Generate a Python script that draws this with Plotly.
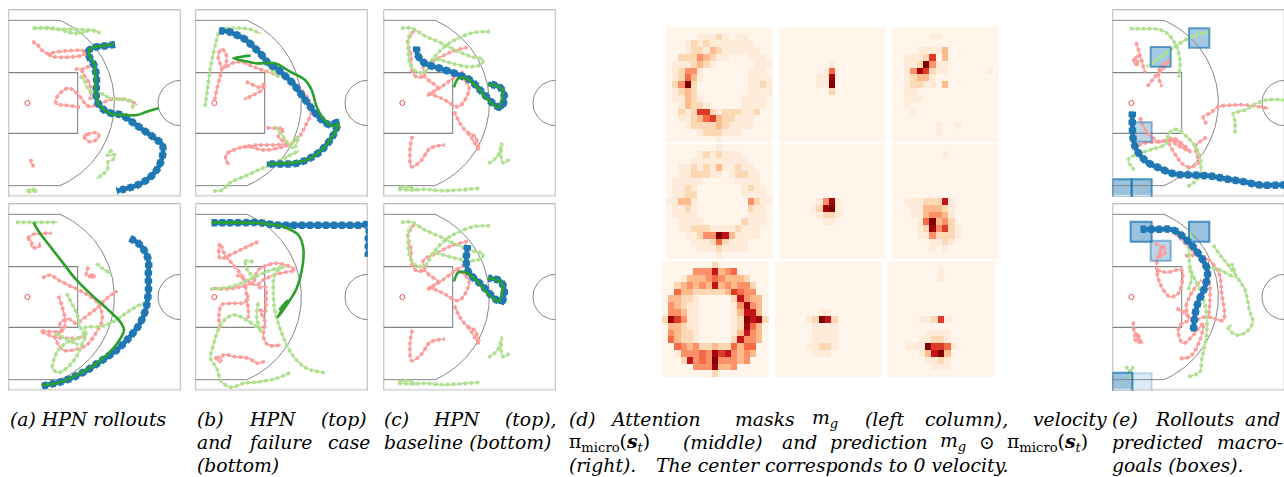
import numpy as np
import plotly.graph_objects as go

W_FIG, H_FIG = 1284, 477
PANEL_W, PANEL_H = 517, 562

A1_GREEN_L = [
    [(98,85),(130,85),(160,86),(190,88),(220,88),(250,89),(280,92),(302,99)],
    [(100,84),(150,84),(185,90),(215,99),(240,100),(275,90),(295,96)],
    [(240,228),(252,240),(262,262),(270,275),(300,278),(320,290),(345,298),(375,298),(395,305),(398,328)],
    [(336,450),(322,465),(345,465),(340,478),(325,485),(322,510),(305,525),(290,537)],
    [(80,574),(95,568),(112,572),(95,575),(82,575)],
]
A1_RED_L = [
    [(97,124),(112,134),(125,150),(140,160),(175,155),(210,152),(240,151),(258,155),(250,165),(220,170),(190,172),(160,170),(142,160)],
    [(225,206),(245,208),(270,197)],
    [(245,208),(252,225),(268,250),(272,275),(270,300)],
    [(240,322),(215,318),(190,315),(170,312),(167,300),(185,275),(205,264),(220,270),(240,290),(255,310),(270,320),(300,310),(340,297),(370,298),(395,305),(412,315)],
    [(250,408),(262,403),(285,398),(297,405),(290,418),(270,425),(255,415),(250,408)],
    [(92,477),(95,490),(100,497),(95,497)],
]
A1_BLUE = [(345,133),(320,137),(295,140),(275,145),(265,155),(270,175),(282,195),(288,220),(290,250),(288,280),(292,305),(310,328),(335,340),(365,345),(395,365),(430,390),(465,415),(487,435),(487,470),(470,510),(440,540),(405,558),(370,568),(350,573)]
A1_GREEN = [(342,131),(310,137),(280,142),(265,152),(270,170),(282,190),(286,220),(287,260),(288,290),(300,318),(330,340),(370,345),(412,345),(440,335),(476,325)]

B1_GREEN_L = [
    [(615,320),(622,270),(630,210),(640,160),(650,120),(660,90),(690,85),(725,85),(750,88),(782,101)],
    [(780,170),(800,190),(825,215),(850,215),(838,228),(820,222),(810,205)],
    [(640,573),(665,570),(690,548),(735,528),(780,508),(820,492),(860,470),(897,453)],
    [(825,380),(850,410),(880,445),(895,410),(880,425),(870,440)],
]
B1_RED_L = [
    [(644,300),(650,270),(660,230),(665,205),(655,175),(662,148),(675,155),(680,180),(672,205),(695,190),(720,185),(760,200),(800,215),(850,230),(890,255),(920,290),(935,330),(915,380),(890,420),(850,440),(790,450),(740,440),(680,462),(678,480),(688,495)],
    [(800,383),(825,385),(850,388),(835,410),(858,430),(820,435),(775,435),(730,440)],
    [(738,245),(760,255),(780,262),(795,250),(785,270),(760,285),(733,298)],
]
B1_BLUE = [(658,92),(685,95),(710,105),(735,118),(760,140),(785,165),(805,190),(830,205),(860,232),(880,252),(905,285),(935,325),(960,355),(990,375),(1012,368),(1000,405),(970,445),(935,472),(890,490),(845,492),(800,492)]
B1_GREEN = [(752,167),(725,170),(700,175),(735,183),(770,190),(825,190),(870,215),(915,240),(935,270),(950,320),(970,355),(1000,378),(1015,372),(1000,405),(970,445),(930,475),(890,487),(845,490),(805,492)]

A2_GREEN_L = [
    [(48,82),(80,82),(110,82),(140,82),(173,82)],
    [(290,205),(300,215),(315,225),(335,238)],
    [(200,295),(215,325),(232,360),(240,395),(250,415),(235,430),(205,440),(175,465),(160,500),(158,520),(175,533),(205,515),(232,480),(245,450),(258,420),(255,398),(300,395),(340,380),(400,340),(435,323)],
    [(165,415),(195,430),(235,450)],
]
A2_RED_L = [
    [(82,130),(100,118),(130,115),(155,115)],
    [(82,130),(95,140),(95,155),(115,157),(120,140)],
    [(265,215),(260,240),(285,240),(275,248),(265,245)],
    [(127,250),(150,240),(180,258),(215,275),(255,295),(290,320),(305,350),(305,380),(290,410),(260,450),(220,465),(190,465),(170,440),(165,420),(185,410),(180,385),(205,372),(230,385),(250,370),(290,340),(320,310),(352,288)],
    [(175,303),(185,330),(195,375),(190,405),(150,410),(122,408),(160,425),(215,430),(260,425)],
]
A2_BLUE = [(390,130),(415,145),(432,165),(445,195),(445,240),(445,290),(438,340),(420,385),(390,425),(350,465),(300,500),(250,532),(200,555),(160,566),(125,573)]
A2_GREEN = [(100,82),(120,115),(155,160),(190,205),(225,250),(270,295),(320,340),(360,380),(372,405),(355,440),(320,480),(275,515),(220,545),(170,565),(125,570)]

B2_GREEN_L = [
    [(630,282),(665,280),(710,270),(755,250),(800,230),(852,215),(825,235),(820,290),(825,350),(840,400),(860,450),(885,490),(920,520),(975,533)],
    [(733,197),(762,200)],
    [(735,200),(745,230),(765,245)],
    [(870,533),(830,550),(780,560),(730,565),(695,577),(665,560),(650,520),(632,490),(640,450),(665,385),(700,360),(740,375),(775,400),(785,410),(770,370),(775,320)],
]
B2_RED_L = [
    [(775,140),(730,160),(690,180),(660,190),(660,145),(675,180),(700,210),(730,250),(740,300),(745,350),(745,370)],
    [(660,400),(657,360),(665,330),(700,325),(735,322),(745,300)],
    [(640,280),(700,280),(760,260),(775,225),(830,205),(885,225),(840,235),(790,255),(770,270),(740,255),(710,240)],
    [(775,280),(795,275),(798,320),(795,350),(780,345),(795,380),(790,425),(805,450),(842,450)],
    [(660,490),(645,485),(660,500),(670,480),(705,485),(745,490),(775,505),(795,497)],
]
B2_BLUE = [(635,83),(680,83),(730,83),(780,83),(830,90),(880,91),(930,91),(980,91),(1030,91),(1075,91),(1105,91),(1105,130),(1105,185)]
B2_GREEN = [(635,83),(700,83),(790,85),(850,95),(895,120),(910,160),(908,210),(890,280),(860,330),(833,367),(862,316),(838,345)]

C_GREEN_L = [
    [(78,85),(110,85),(150,108),(200,130),(250,155),(290,170),(325,180),(315,195),(280,200),(230,190),(180,175)],
    [(345,95),(300,97),(260,110),(215,135),(175,175),(150,215),(125,215),(105,190),(100,125),(105,95)],
    [(340,490),(362,475),(372,460),(380,432),(378,470),(385,488),(403,478)],
    [(70,568),(110,570),(150,568),(200,572),(250,570),(313,565)],
    [(70,565),(95,560),(125,570)],
]
C_RED_L = [
    [(118,90),(105,110),(98,125),(108,165),(110,210),(128,232),(148,225),(145,200),(190,175),(230,155),(278,142)],
    [(145,225),(165,245),(188,262),(160,285),(200,260),(240,230),(265,215)],
    [(160,280),(200,295),(250,320),(270,300),(282,260),(260,235),(240,225)],
    [(238,335),(255,370),(275,395),(300,410),(312,450),(290,415),(275,395)],
    [(112,408),(105,450),(110,500),(140,480),(165,445),(210,435)],
]
C1_BLUE = [(125,140),(128,165),(150,190),(195,205),(245,222),(285,240),(320,275),(360,315),(378,322),(388,290),(375,262),(340,252)]
C2_BLUE = [(278,153),(278,228),(320,273),(365,318),(380,323),(388,288),(375,261),(340,253)]
C_GREEN = [(237,262),(250,235),(270,235),(300,255),(335,295),(370,322),(380,300),(382,270),(365,258),(338,252)]

E1_GREEN_L = [
    [(90,86),(130,86),(170,87),(195,95),(215,115),(232,145),(240,185),(236,232)],
    [(330,96),(290,105),(255,120),(225,140),(190,165),(140,200)],
    [(405,400),(405,365),(400,340),(415,335),(435,330),(460,315),(500,300),(552,300)],
    [(262,560),(295,535),(303,500),(295,455),(260,410),(225,388),(205,405),(200,430),(150,450),(105,465),(85,480),(103,510)],
]
E1_RED_L = [
    [(108,127),(120,165),(135,217)],
    [(120,165),(100,185),(115,195),(105,170)],
    [(142,260),(165,230),(195,200),(210,180),(180,205),(175,225),(185,260)],
    [(320,372),(310,350),(330,340),(355,320),(400,315),(440,315),(505,325)],
    [(120,352),(140,395),(180,425),(220,415),(270,455),(240,440),(205,420),(230,470),(260,500),(295,490),(290,460),(285,440),(320,412)],
    [(100,445),(130,430),(180,425),(220,420),(270,455)],
]
E1_BLUE = [(97,335),(97,380),(100,420),(110,450),(140,485),(180,505),(225,522),(275,525),(330,528),(380,537),(430,545),(480,555),(540,555),(552,555)]
E1_BOXES = [(267,85,328,143,0.8),(152,141,212,200,0.8),(100,367,155,425,0.6),(37,538,95,593,0.9),(95,538,155,593,0.9)]

E2_GREEN_L = [
    [(340,735),(360,765),(385,795),(410,830),(435,870),(448,930),(458,965),(440,995),(410,1005),(385,985),(395,975)],
    [(265,1130),(300,1115),(305,1080),(320,1000),(318,930),(300,870),(270,800),(272,695)],
    [(78,1098),(90,1115),(100,1100),(88,1118),(95,1135)],
    [(265,870),(275,830),(265,800)],
    [(320,800),(360,810),(405,830),(395,790)],
]
E2_RED_L = [
    [(100,965),(103,995),(125,1030),(110,1000),(103,1015),(120,1030)],
    [(230,925),(255,940),(280,960),(320,950),(370,960),(365,880),(355,815),(310,770),(255,768)],
    [(225,700),(260,735),(295,770),(325,830),(330,900),(325,950)],
    [(165,730),(185,745),(175,770),(195,760),(190,740),(170,790),(180,850),(210,890),(235,880),(245,810),(200,817),(170,810)],
    [(240,1075),(270,1070),(300,1020),(310,970),(280,1005),(250,1030),(235,1000),(240,975),(265,960),(258,920),(280,870),(305,840)],
]
E2_BLUE = [(122,688),(170,688),(220,690),(260,720),(295,760),(322,810),(315,860),(295,905),(285,945),(280,995)]
E2_BOXES = [(92,665,155,725,0.9),(267,665,328,725,0.9),(152,722,212,782,0.6),(37,1118,97,1175,0.9),(97,1120,155,1175,0.3)]

H11 = ["00000000000000000","00000111210110000","00012121111111000","00012213211111100","00222432110001110","01112321000000111","01244100000001110","01253100000001111","02492000000001121","01232000000001111","01132100000011110","00132210000011110","00212662122211200","00112356322111000","00012222321111000","00000122211100000","00000000100000000"]
H12 = ["00000000000000000","00000000000000000","00000000000000000","00000000000000000","00000000000000000","00000000100000000","00000001500000000","00000011800000000","00000011900000000","00000000200000000","00000000000000000","00000000000000000","00000000000000000","00000000000000000","00000000000000000","00000000000000000","00000000000000000"]
H13 = ["00000000000000000","00000011000000000","00000000000000000","00001111300000000","00111260300000000","00112941100000000","00148621100000010","00123310000000000","00122110300000000","00110000000000000","00111000000000000","00100000000000000","00010000000000000","00000000000000000","00000001001000000","00000001000000000","00000000000000000"]
H21 = ["00000000100000000","00000121211100000","00001111111110000","00112121311211000","00112221101221100","01111100000111100","01121000000012110","01122000000011110","11331000000004211","01121000000002110","01111000000001110","00111100000021110","00112221111211100","00011244973111100","00001112521110000","00000111211110000","00000000100000000"]
H22 = ["00000000000000000","00000000000000000","00000000000000000","00000000000000000","00000000000000000","00000000000000000","00000000000000000","00000000000000000","00000014810000000","00000128910000000","00000012210000000","00000001100000000","00000000000000000","00000000000000000","00000000000000000","00000000000000000","00000000000000000"]
H23 = ["00000000000000000","00000000100000000","00000000000000000","00000000000000000","00000000000000000","00000000000000000","00000000000000000","00000000000000000","00111222710000000","00011333210000000","00011344310000000","00001593420000000","00001284621000000","00001142221000000","00000011210000000","00000010100000000","00000000000000000"]
H31 = ["00000000200000000","00000444734500000","00013334543332000","00234343734344200","00533222223654400","03322100000274330","04321100000148430","04431100000137730","28641100000129782","03321100000128530","04322100000137430","05322100000274430","00543422322535500","00144454867434300","00027454944434000","00000444833400000","00000000200000000"]
H32 = ["00000000000000000","00000000000000000","00000000000000000","00000000000000000","00000000000000000","00000000000000000","00000000000000000","00000001100000000","00000129720000000","00000011110000000","00000011110000000","00000011110000000","00000112210000000","00000011100000000","00000000000000000","00000000000000000","00000000000000000"]
H33 = ["00000000000000000","00000000100000000","00000000100000000","00000000000000000","00000000000000000","00000000000000000","00000000000000000","00000000000000000","00000112610000000","00000000000000000","00000011110000000","00000112210000000","00011196651000000","00000137930000000","00000011210000000","00000001110000000","00000000000000000"]

CAPTIONS = [
    (10,420,"<i>(a) HPN rollouts</i>"),
    (197,420,"<i>(b)</i>"),(249,420,"<i>HPN</i>"),(321,420,"<i>(top)</i>"),
    (197,443,"<i>and</i>"),(248,443,"<i>failure</i>"),(328,443,"<i>case</i>"),
    (197,466,"<i>(bottom)</i>"),
    (384,420,"<i>(c)</i>"),(433,420,"<i>HPN</i>"),(505,420,"<i>(top),</i>"),
    (384,443,"<i>baseline (bottom)</i>"),
    (569,420,"<i>(d)</i>"),(610,420,"<i>Attention</i>"),(735,420,"<i>masks</i>"),(812,420,"<i>m<sub>g</sub></i>"),
    (865,420,"<i>(left</i>"),(925,420,"<i>column),</i>"),(1033,420,"<i>velocity</i>"),
    (569,443,"π<sub>micro</sub>(<b><i>s</i></b><sub><i>t</i></sub>)"),(683,443,"<i>(middle)</i>"),(782,443,"<i>and</i>"),
    (830,443,"<i>prediction</i>"),(940,443,"<i>m<sub>g</sub></i>"),(979,443,"⊙"),(1007,443,"π<sub>micro</sub>(<b><i>s</i></b><sub><i>t</i></sub>)"),
    (569,466,"<i>(right).</i>"),(656,466,"<i>The center corresponds to 0 velocity.</i>"),
    (1112,420,"<i>(e)</i>"),(1155,420,"<i>Rollouts</i>"),(1245,420,"<i>and</i>"),
    (1112,443,"<i>predicted</i>"),(1217,443,"<i>macro-</i>"),
    (1112,466,"<i>goals (boxes).</i>"),
]

COLORSCALE = [[0,"#fff5eb"],[1/9,"#feebd9"],[2/9,"#fdd8b4"],[3/9,"#fdbb8c"],[4/9,"#fc9068"],[5/9,"#f46a45"],[6/9,"#dd3a27"],[7/9,"#c4141a"],[8/9,"#a00509"],[1,"#7f0000"]]

COL_LINE, COL_BORDER, COL_BASE = "#858585", "#a8a8a8", "#dcdcdc"
COL_BLUE, COL_GREEN, COL_RED_L, COL_GREEN_L = "#1f77b4", "#2ca02c", "#fd9c9a", "#aee08f"

fig = go.Figure()
axis_idx = 0
layout_axes = {}
annots = []
shapes = []


def new_axes(x0px, x1px, ytop, ybot, xr, yr):
    global axis_idx
    axis_idx += 1
    s = "" if axis_idx == 1 else str(axis_idx)
    common = dict(visible=False, fixedrange=True)
    layout_axes["xaxis" + s] = dict(domain=[x0px / W_FIG, x1px / W_FIG], range=xr, anchor="y" + s, **common)
    layout_axes["yaxis" + s] = dict(domain=[1 - ybot / H_FIG, 1 - ytop / H_FIG], range=yr, anchor="x" + s, **common)
    return "x" + s, "y" + s


def line(xa, ya, xs, ys, color, width):
    fig.add_trace(go.Scatter(x=xs, y=ys, xaxis=xa, yaxis=ya, mode="lines", line=dict(color=color, width=width), hoverinfo="skip", showlegend=False))


def track(xa, ya, pts, color, width, bead=None, dash=None):
    xs, ys = [p[0] for p in pts], [p[1] for p in pts]
    fig.add_trace(go.Scatter(x=xs, y=ys, xaxis=xa, yaxis=ya, mode="lines",
                             line=dict(color=color, width=width, shape="spline", smoothing=1.0),
                             hoverinfo="skip", showlegend=False))
    if bead:
        fig.add_trace(go.Scatter(x=xs, y=ys, xaxis=xa, yaxis=ya, mode="lines",
                                 line=dict(color=color, width=bead, shape="spline", smoothing=1.0, dash=dash),
                                 hoverinfo="skip", showlegend=False))


def court_panel(offx, offy, ox, oy, reds, greens, blue, green, boxes=()):
    x0 = offx + ox / 3
    x1 = min(W_FIG, offx + (ox + PANEL_W) / 3)
    xr_end = ox + (x1 - x0) * 3
    xa, ya = new_axes(x0, x1, offy + oy / 3, offy + (oy + PANEL_H) / 3, [ox, xr_end], [oy + PANEL_H, oy])
    line(xa, ya, [ox, ox + PANEL_W], [oy + PANEL_H - 2, oy + PANEL_H - 2], COL_BASE, 2.5)
    line(xa, ya, [ox + 1, ox + 1, ox + PANEL_W - 1, ox + PANEL_W - 1], [oy + PANEL_H, oy + 1, oy + 1, oy + PANEL_H], COL_BORDER, 1.1)
    # three-point line: baseline stubs joined by an arc of radius 270 about (ox+48, oy+281)
    t = np.linspace(-np.arcsin(248 / 270), np.arcsin(248 / 270), 90)
    cx, cy = ox + 48, oy + 281
    line(xa, ya, np.r_[ox, cx + 270 * np.cos(t), ox].tolist(), np.r_[oy + 33, cy + 270 * np.sin(t), oy + 529].tolist(), COL_LINE, 1.0)
    line(xa, ya, [ox, ox + 208, ox + 208, ox], [oy + 190, oy + 190, oy + 372, oy + 372], COL_LINE, 1.1)
    a = np.linspace(np.pi / 2, 3 * np.pi / 2, 60)
    line(xa, ya, (ox + PANEL_W + 68 * np.cos(a)).tolist(), (cy + 68 * np.sin(a)).tolist(), COL_LINE, 1.0)
    fig.add_trace(go.Scatter(x=[ox + 57], y=[cy], xaxis=xa, yaxis=ya, mode="markers", marker=dict(symbol="circle-open", color="#f25050", size=5, line=dict(width=1)), hoverinfo="skip", showlegend=False))
    fig.add_trace(go.Scatter(x=[ox + 245], y=[oy - 6], xaxis=xa, yaxis=ya, mode="markers", cliponaxis=False, marker=dict(symbol="triangle-down-open", color="#aaaaaa", size=3, line=dict(width=0.6)), hoverinfo="skip", showlegend=False))
    for bx0, by0, bx1, by1, op in boxes:
        shapes.append(dict(type="rect", xref=xa, yref=ya, x0=bx0, y0=by0, x1=bx1, y1=by1, fillcolor=COL_BLUE, opacity=0.5 * op, line=dict(width=0), layer="below"))
        shapes.append(dict(type="rect", xref=xa, yref=ya, x0=bx0, y0=by0, x1=bx1, y1=by1, line=dict(color=COL_BLUE, width=2), opacity=0.85 * op, layer="above"))
    for tr in reds:
        track(xa, ya, tr, COL_RED_L, 1.5, 3.6, "3px,3px")
    for tr in greens:
        track(xa, ya, tr, COL_GREEN_L, 1.5, 3.6, "3px,3px")
    track(xa, ya, blue, COL_BLUE, 5, 7.5, "5px,3px")
    if green:
        track(xa, ya, green, COL_GREEN, 2.6)


court_panel(0, 0, 25, 28, A1_RED_L, A1_GREEN_L, A1_BLUE, A1_GREEN)
court_panel(0, 0, 586, 28, B1_RED_L, B1_GREEN_L, B1_BLUE, B1_GREEN)
court_panel(0, 195, 25, 25, A2_RED_L, A2_GREEN_L, A2_BLUE, A2_GREEN)
court_panel(0, 195, 586, 25, B2_RED_L, B2_GREEN_L, B2_BLUE, B2_GREEN)
court_panel(375, 0, 25, 28, C_RED_L, C_GREEN_L, C1_BLUE, C_GREEN)
court_panel(375, 194, 25, 28, C_RED_L, C_GREEN_L, C2_BLUE, C_GREEN)
court_panel(1100, 0, 37, 28, E1_RED_L, E1_GREEN_L, E1_BLUE, None, E1_BOXES)
court_panel(1100, 0, 37, 610, E2_RED_L, E2_GREEN_L, E2_BLUE, None, E2_BOXES)

HEATS = [
    (H11, 665.7, 773.0, 26.7, 142.7), (H12, 778.7, 886.0, 26.7, 142.7), (H13, 891.3, 999.0, 26.7, 142.7),
    (H21, 665.7, 773.0, 144.0, 259.3), (H22, 778.7, 886.0, 144.0, 259.3), (H23, 891.3, 999.0, 144.0, 259.3),
    (H31, 661.7, 769.0, 261.3, 377.3), (H32, 774.7, 882.0, 261.3, 377.3), (H33, 887.0, 995.0, 261.3, 377.3),
]
for rows, x0, x1, yt, yb in HEATS:
    xa, ya = new_axes(x0, x1, yt, yb, [-0.5, 16.5], [16.5, -0.5])
    fig.add_trace(go.Heatmap(z=[[int(c) for c in r] for r in rows], xaxis=xa, yaxis=ya, colorscale=COLORSCALE, zmin=0, zmax=9, showscale=False, hoverinfo="skip", xgap=0, ygap=0))
    if rows is H12 or rows is H22:
        fig.add_trace(go.Scatter(x=[16.8] * 9, y=[r * 2 for r in range(9)], xaxis=xa, yaxis=ya, mode="markers", cliponaxis=False, marker=dict(size=1.8, color="#a9b0bb"), hoverinfo="skip", showlegend=False))

for x, y, txt in CAPTIONS:
    annots.append(dict(x=x / W_FIG, y=1 - (y - 1) / H_FIG, xref="paper", yref="paper", text=txt, showarrow=False, xanchor="left", yanchor="middle", xshift=-2, font=dict(family="DejaVu Serif", size=18.8, color="#000000")))

fig.update_layout(width=W_FIG, height=H_FIG, margin=dict(l=0, r=0, t=0, b=0), paper_bgcolor="white", plot_bgcolor="white", showlegend=False, annotations=annots, shapes=shapes, **layout_axes)
fig.write_html("out.html", config=dict(displayModeBar=False), post_script="document.body.style.margin='0';document.body.style.overflow='hidden';")
